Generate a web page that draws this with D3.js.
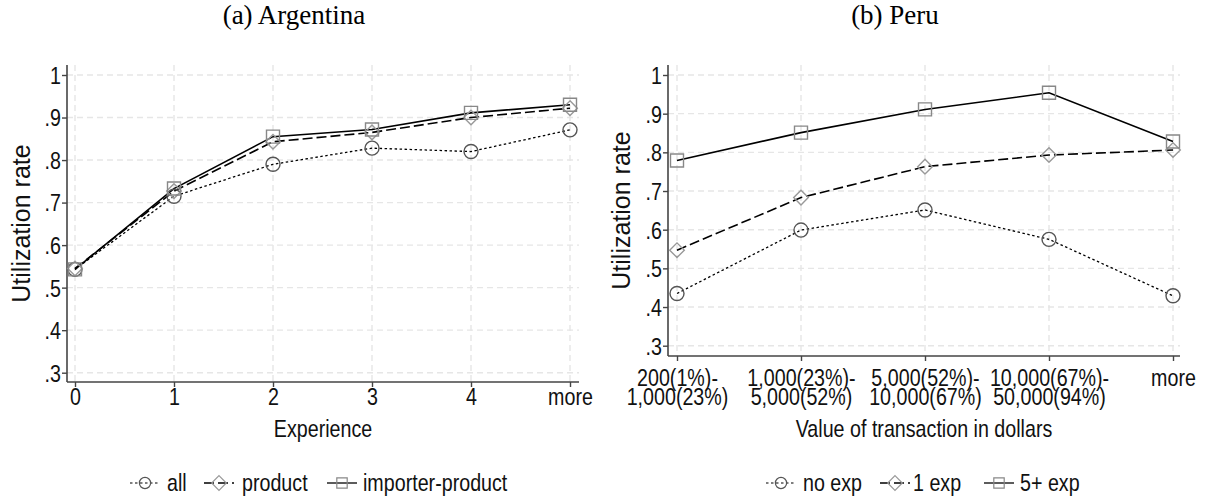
<!DOCTYPE html>
<html>
<head>
<meta charset="utf-8">
<script src="https://cdn.jsdelivr.net/npm/d3@7"></script>
<style>
    body { margin: 0; background: white; }
    svg { display: block; }
    .sans { font-family: "Liberation Sans", Arial, sans-serif; }
    .ptitle { font-family: "Liberation Serif", "Times New Roman", serif; }
</style>
</head>
<body>
<div class="chart-ctn"></div>
<script>
// Panel (a) Argentina
const expCats = ['0', '1', '2', '3', '4', 'more'];
const allUse = [0.543, 0.715, 0.790, 0.828, 0.820, 0.871];
const productUse = [0.545, 0.727, 0.843, 0.865, 0.900, 0.922];
const importerProductUse = [0.543, 0.733, 0.855, 0.872, 0.911, 0.930];

// Panel (b) Peru
const valueCats = ['200(1%)-|1,000(23%)', '1,000(23%)-|5,000(52%)', '5,000(52%)-|10,000(67%)', '10,000(67%)-|50,000(94%)', 'more'];
const noExpUse = [0.435, 0.599, 0.651, 0.575, 0.429];
const oneExpUse = [0.547, 0.683, 0.763, 0.793, 0.806];
const fiveExpUse = [0.779, 0.851, 0.911, 0.954, 0.828];

const yTicks = [0.3, 0.4, 0.5, 0.6, 0.7, 0.8, 0.9, 1];
const yTickLabels = ['.3', '.4', '.5', '.6', '.7', '.8', '.9', '1'];

const W = 1207, H = 499;
const NARROW = 0.82; // no narrow font installed, so squeeze the sans text

const svg = d3.select('.chart-ctn')
    .append('svg')
    .attr('width', W)
    .attr('height', H);

const styles = {
    dot:   { dash: '2.5,2.5', width: 1.3, symbol: 'circle',  stroke: '#555' },
    dash:  { dash: '10,4',    width: 1.6, symbol: 'diamond', stroke: '#999' },
    solid: { dash: null,      width: 1.6, symbol: 'square',  stroke: '#888' }
};

function markerPath(kind, scale) {
    let s = scale || 1;
    if (kind === 'circle') return d3.symbol().type(d3.symbolCircle).size(154 * s * s)();
    if (kind === 'square') return d3.symbol().type(d3.symbolSquare).size(169 * s * s)();
    return d3.symbol().type(d3.symbolDiamond2).size(136 * s * s)();
}

// text squeezed horizontally, placed at (x, y)
function narrowText(parent, x, y, str, anchor) {
    return parent.append('text')
        .attr('class', 'sans')
        .attr('transform', 'translate(' + x + ',' + y + ') scale(' + NARROW + ',1)')
        .attr('text-anchor', anchor || 'start')
        .attr('font-size', 24)
        .attr('fill', '#111')
        .text(str);
}

function drawPanel(cfg) {
    const g = svg.append('g');

    let x = d3.scalePoint()
        .domain(cfg.cats)
        .range([cfg.x0, cfg.x1]);

    let y = d3.scaleLinear()
        .domain([0.3, 1])
        .range([cfg.yLow, cfg.yHigh]);

    // grid
    g.selectAll('.hgrid')
        .data(yTicks)
        .join('line')
        .attr('x1', cfg.left).attr('x2', cfg.right)
        .attr('y1', d => y(d)).attr('y2', d => y(d))
        .attr('stroke', '#e6e6e6')
        .attr('stroke-width', 1.4)
        .attr('stroke-dasharray', '6,4');

    g.selectAll('.vgrid')
        .data(cfg.cats)
        .join('line')
        .attr('x1', d => x(d)).attr('x2', d => x(d))
        .attr('y1', cfg.top).attr('y2', cfg.bottom)
        .attr('stroke', '#e6e6e6')
        .attr('stroke-width', 1.4)
        .attr('stroke-dasharray', '6,4');

    // axes
    const yAxis = d3.axisLeft(y)
        .tickValues(yTicks)
        .tickFormat((d, i) => yTickLabels[i])
        .tickSize(5)
        .tickPadding(1);

    const yg = g.append('g')
        .attr('transform', 'translate(' + cfg.left + ',0)')
        .call(yAxis);
    yg.select('.domain').remove();
    yg.selectAll('line').attr('stroke', '#444').attr('stroke-width', 1.4);
    yg.selectAll('text')
        .attr('class', 'sans')
        .attr('font-size', 24)
        .attr('fill', '#111')
        .attr('x', -6 / NARROW)
        .attr('dy', '0.35em')
        .attr('transform', 'scale(' + NARROW + ',1)');

    const xAxis = d3.axisBottom(x)
        .tickSize(5)
        .tickPadding(4);

    const xg = g.append('g')
        .attr('transform', 'translate(0,' + cfg.bottom + ')')
        .call(xAxis);
    xg.select('.domain').remove();
    xg.selectAll('line').attr('stroke', '#444').attr('stroke-width', 1.4);
    xg.selectAll('text').each(function(d) {
        const t = d3.select(this);
        const parts = d.split('|');
        t.text(null)
            .attr('class', 'sans')
            .attr('font-size', 24)
            .attr('fill', '#111')
            .attr('y', cfg.tickY)
            .attr('dy', null)
            .attr('transform', 'scale(' + NARROW + ',1)');
        parts.forEach((p, i) => {
            t.append('tspan')
                .attr('x', 0)
                .attr('dy', i === 0 ? 0 : 19.5)
                .text(p);
        });
    });

    g.append('line')
        .attr('x1', cfg.left).attr('x2', cfg.left)
        .attr('y1', cfg.top).attr('y2', cfg.bottom)
        .attr('stroke', '#444').attr('stroke-width', 1.6);
    g.append('line')
        .attr('x1', cfg.left).attr('x2', cfg.right)
        .attr('y1', cfg.bottom).attr('y2', cfg.bottom)
        .attr('stroke', '#444').attr('stroke-width', 1.6);

    // series lines
    cfg.series.forEach(s => {
        const st = styles[s.style];
        g.append('path')
            .datum(s.values)
            .attr('fill', 'none')
            .attr('stroke', '#000')
            .attr('stroke-width', st.width)
            .attr('stroke-dasharray', st.dash)
            .attr('d', d3.line()
                .x((d, i) => x(cfg.cats[i]))
                .y(d => y(d))
            );
    });

    // markers (hollow)
    cfg.series.forEach(s => {
        const st = styles[s.style];
        g.selectAll(null)
            .data(s.values)
            .join('path')
            .attr('transform', (d, i) => 'translate(' + x(cfg.cats[i]) + ',' + y(d) + ')')
            .attr('d', markerPath(st.symbol))
            .attr('fill', 'none')
            .attr('stroke', st.stroke)
            .attr('stroke-width', 1.4);
    });

    // titles
    svg.append('text')
        .attr('class', 'ptitle')
        .attr('x', cfg.titleX)
        .attr('y', 24)
        .attr('text-anchor', 'middle')
        .attr('font-size', 27)
        .text(cfg.title);

    narrowText(svg, (cfg.left + cfg.right) / 2, 437, cfg.xLabel, 'middle');

    svg.append('text')
        .attr('class', 'sans')
        .attr('transform', 'translate(' + cfg.yTitleX + ',' + (cfg.top + cfg.bottom) / 2 + ') rotate(-90)')
        .attr('text-anchor', 'middle')
        .attr('font-size', 25)
        .attr('fill', '#111')
        .text('Utilization rate');

    // legend
    cfg.legend.forEach(item => {
        const st = styles[item.style];
        const lg = svg.append('g').attr('transform', 'translate(' + item.x + ',483)');
        lg.append('line')
            .attr('x1', 0).attr('x2', 30)
            .attr('y1', 0).attr('y2', 0)
            .attr('stroke', '#000')
            .attr('stroke-width', st.width * 0.8)
            .attr('stroke-dasharray', st.dash);
        lg.append('path')
            .attr('transform', 'translate(15,0)')
            .attr('d', markerPath(st.symbol, item.style === 'dash' ? 1 : 0.8))
            .attr('fill', 'none')
            .attr('stroke', st.stroke)
            .attr('stroke-width', 1.2);
        narrowText(lg, item.tx, 8, item.label);
    });
}

drawPanel({
    title: '(a) Argentina', titleX: 294,
    cats: expCats,
    x0: 75, x1: 570, left: 67, right: 579,
    yLow: 372.7, yHigh: 75, top: 65, bottom: 382,
    tickY: 23, yTitleX: 30,
    xLabel: 'Experience',
    series: [
        { values: allUse, style: 'dot' },
        { values: productUse, style: 'dash' },
        { values: importerProductUse, style: 'solid' }
    ],
    legend: [
        { x: 130, tx: 37, label: 'all', style: 'dot' },
        { x: 204, tx: 38, label: 'product', style: 'dash' },
        { x: 327, tx: 36, label: 'importer-product', style: 'solid' }
    ]
});

drawPanel({
    title: '(b) Peru', titleX: 895,
    cats: valueCats,
    x0: 677, x1: 1173, left: 668, right: 1180,
    yLow: 345.7, yHigh: 75, top: 65, bottom: 356,
    tickY: 30, yTitleX: 630,
    xLabel: 'Value of transaction in dollars',
    series: [
        { values: noExpUse, style: 'dot' },
        { values: oneExpUse, style: 'dash' },
        { values: fiveExpUse, style: 'solid' }
    ],
    legend: [
        { x: 766, tx: 37, label: 'no exp', style: 'dot' },
        { x: 880, tx: 33, label: '1 exp', style: 'dash' },
        { x: 984, tx: 36, label: '5+ exp', style: 'solid' }
    ]
});
</script>
</body>
</html>
